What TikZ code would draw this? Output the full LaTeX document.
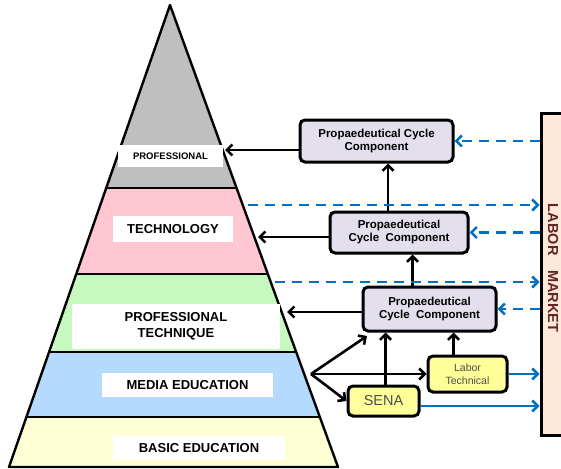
\documentclass[tikz,border=0pt]{standalone}
\usepackage{fontspec}
\setmainfont{Liberation Sans}
\usetikzlibrary{positioning,arrows.meta,calc}

\definecolor{topgray}{HTML}{BFBFBF}
\definecolor{bandpink}{HTML}{FFC7D2}
\definecolor{bandgreen}{HTML}{C6F8C0}
\definecolor{bandblue}{HTML}{B4DAFF}
\definecolor{bandyellow}{HTML}{FFFFD6}
\definecolor{boxlilac}{HTML}{E4DFEC}
\definecolor{boxyellow}{HTML}{FFFF99}
\definecolor{marketfill}{HTML}{FDE9D9}
\definecolor{marketred}{HTML}{632423}
\definecolor{lineblue}{HTML}{0070C0}
\definecolor{graytext}{HTML}{4D4D4D}

\begin{document}
\begin{tikzpicture}[x=1pt,y=-1pt,
    arr/.style={line width=2.6pt,-{Straight Barb[length=5.5pt,width=11pt]}},
    bluearr/.style={arr,draw=lineblue},
    dasharr/.style={bluearr,dash pattern=on 10pt off 7pt},
    lvl/.style={fill=white,inner sep=0pt,align=center,font=\fontsize{13}{16}\selectfont\bfseries},
    cyclebox/.style={draw,line width=3pt,rounded corners=5pt,fill=boxlilac,inner sep=0pt,
      align=center,font=\fontsize{11.5}{13}\selectfont\bfseries},
    smallbox/.style={draw,line width=3pt,rounded corners=5pt,fill=boxyellow,inner sep=0pt,
      align=center,text=graytext}]
    \useasboundingbox (0,0) rectangle (561,468);

    % Pyramide
    \coordinate (apex) at (170,5);
    \coordinate (bl) at (9,467);
    \coordinate (br) at (338,467);
    \begin{scope}
      \clip (apex) -- (bl) -- (br) -- cycle;
      \fill[topgray] (0,0) rectangle (340,188);
      \fill[bandpink] (0,188) rectangle (340,274);
      \fill[bandgreen] (0,274) rectangle (340,352);
      \fill[bandblue] (0,352) rectangle (340,417);
      \fill[bandyellow] (0,417) rectangle (340,468);
      \foreach \y in {188,274,352,417} {
        \draw[line width=2.2pt] (0,\y) -- (340,\y);
      }
    \end{scope}
    \draw[line width=2.4pt,line join=round] (apex) -- (bl) -- (br) -- cycle;

    % Stufen
    \node[lvl,minimum width=105,minimum height=22,font=\fontsize{9.5}{11}\selectfont\bfseries]
      (prof) at (170.5,156) {PROFESSIONAL};
    \node[lvl,minimum width=120,minimum height=26] (tech) at (173,229) {TECHNOLOGY};
    \node[lvl,minimum width=208,minimum height=45] (ptech) at (176,326.5) {PROFESSIONAL\\TECHNIQUE};
    \node[lvl,minimum width=171,minimum height=24] (media) at (187.5,385) {MEDIA EDUCATION};
    \node[lvl,minimum width=172,minimum height=24] (basic) at (199,448) {BASIC EDUCATION};

    % Arbeitsmarkt
    \node[draw,line width=3pt,fill=marketfill,minimum width=24,minimum height=322,inner sep=0pt,
      text=marketred,font=\fontsize{14.5}{16}\selectfont\bfseries]
      (market) at (553,274) {\rotatebox{-90}{LABOR\quad MARKET\hspace{12pt}}};

    % Komponenten
    \node[cyclebox,minimum width=153,minimum height=42] (box1) at (376.5,141) {Propaedeutical Cycle\\Component};
    \node[cyclebox,minimum width=138,minimum height=41] (box2) at (399,232.5) {Propaedeutical\\Cycle\ \ Component};
    \node[cyclebox,minimum width=133,minimum height=44] (box3) at (429.5,309) {Propaedeutical\\Cycle\ \ Component};
    \node[smallbox,minimum width=79,minimum height=36,font=\fontsize{10.5}{12.5}\selectfont]
      (labtech) at (467.5,374) {Labor\\Technical};
    \node[smallbox,minimum width=71,minimum height=30,font=\fontsize{14.5}{16}\selectfont]
      (sena) at (383.5,401) {SENA};

    % Pfeile zur Pyramide
    \coordinate (p1) at (225,150);
    \coordinate (p2) at (258,237);
    \coordinate (p3) at (287,312);
    \draw[arr] (box1.west |- p1) -- (p1);
    \draw[arr] (box2.west |- p2) -- (p2);
    \draw[arr] (box3.west |- p3) -- (p3);
    \draw[arr] ([xshift=-11pt]box2.north) -- ([xshift=-11pt]box2.north |- box1.south);
    \draw[arr] ([xshift=-17pt]box3.north) -- ([xshift=-17pt]box3.north |- box2.south);

    % Verzweigung
    \coordinate (fan) at (311,374);
    \coordinate (fanup) at (367,336);
    \draw[arr] (fan) -- (fanup);
    \draw[arr] (fan) -- (labtech.west);
    \draw[arr] (fan) -- (sena.west);
    \draw[arr] ([xshift=2pt]sena.north) -- ([xshift=2pt]sena.north |- box3.south);
    \draw[arr] ([xshift=-14pt]labtech.north) -- ([xshift=-14pt]labtech.north |- box3.south);

    % Arbeitsmarkt-Pfeile
    \coordinate (s1) at ([yshift=-5pt]sena.east);
    \draw[bluearr] (labtech.east) -- (market.west |- labtech.east);
    \draw[bluearr] (s1) -- (market.west |- s1);
    \foreach \b in {box1,box2,box3} {
      \draw[dasharr] (market.west |- \b.east) -- (\b.east);
    }
    \coordinate (d1) at (248,205);
    \coordinate (d2) at (275,282);
    \foreach \d in {d1,d2} {
      \draw[dasharr] (\d) -- (market.west |- \d);
    }
\end{tikzpicture}
\end{document}
